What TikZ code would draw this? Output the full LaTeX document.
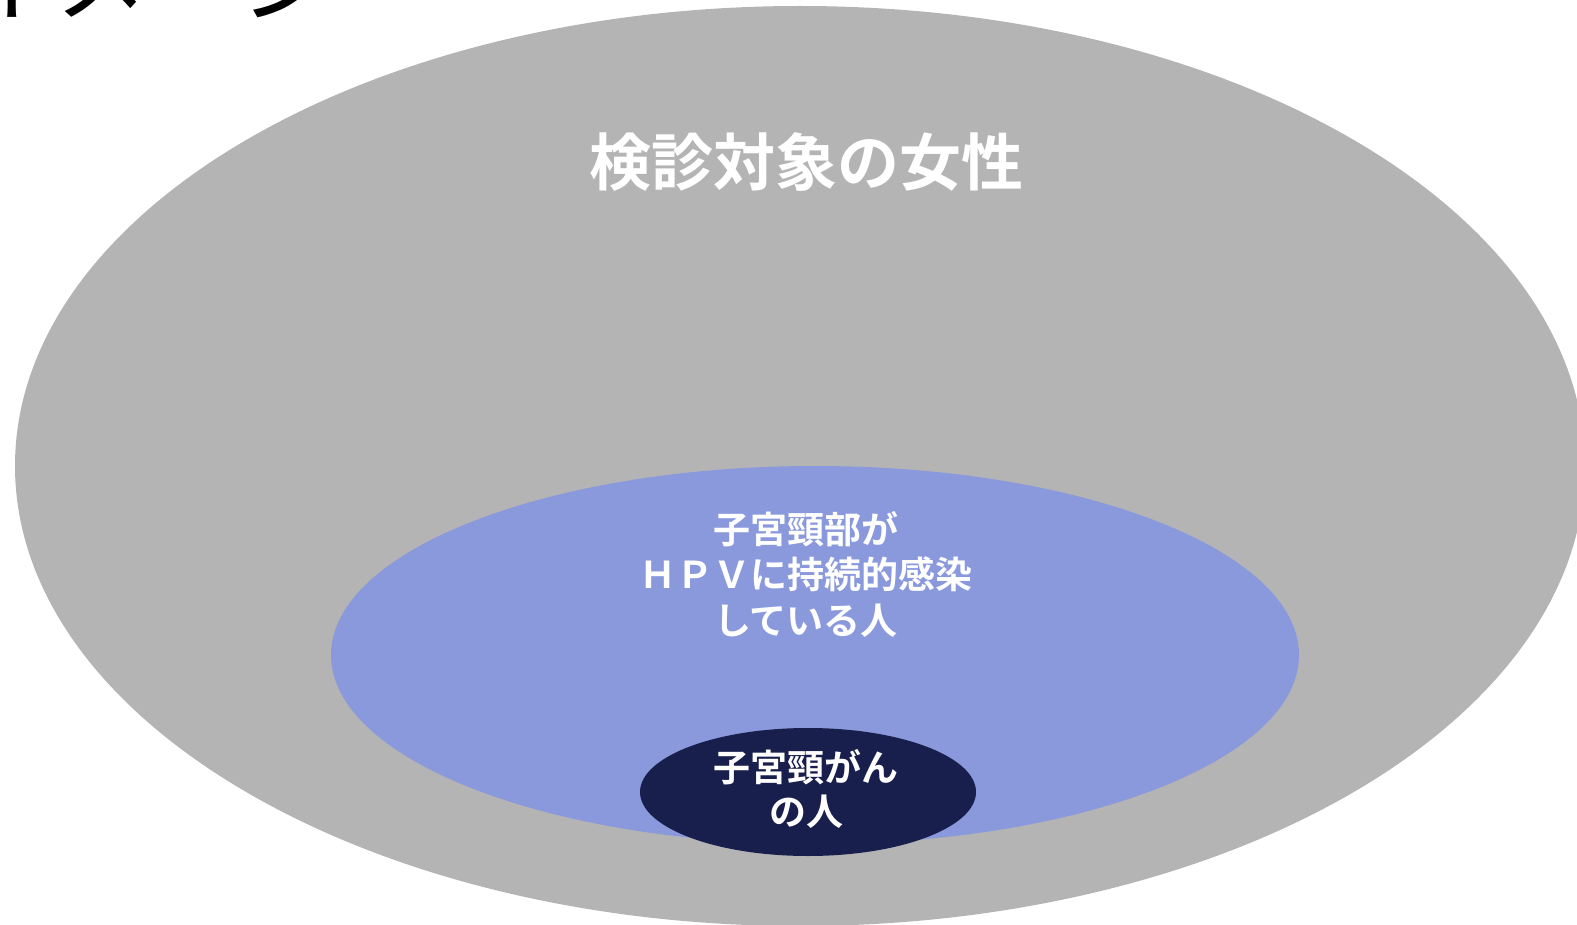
\documentclass[tikz,border=0pt]{standalone}
\usepackage{fontspec}
\usetikzlibrary{shapes.geometric}
\newfontfamily\jp{Noto Sans CJK JP}[BoldFont={Noto Sans CJK JP Bold}]
\definecolor{outergray}{RGB}{180,180,180}
\definecolor{hpvblue}{RGB}{138,153,220}
\definecolor{cancernavy}{RGB}{24,31,76}
\tikzset{
  blob/.style={ellipse, inner sep=0pt, draw=none},
  label/.style={text=white, align=center, inner sep=0pt, font=\jp\bfseries},
}
\begin{document}
\begin{tikzpicture}[x=1pt,y=-1pt]
\useasboundingbox (0,0) rectangle (1577,925);
\clip (0,0) rectangle (1577,925);
\node[blob, fill=outergray, minimum width=1570pt, minimum height=920pt] (women) at (800,466) {};
\node[blob, fill=hpvblue, minimum width=968pt, minimum height=378pt] (hpv) at (815,655) {};
\node[blob, fill=cancernavy, minimum width=336pt, minimum height=128pt] (cancer) at (808,792) {};
\node[label, font=\jp\bfseries\fontsize{62}{70}\selectfont] (titleW) at (806,162) {検診対象の女性};
\node[label, font=\jp\bfseries\fontsize{37}{45.5}\selectfont] (hpvtxt) at (806,574) {子宮頸部が\\ＨＰＶに持続的感染\\している人};
\node[label, font=\jp\bfseries\fontsize{37}{44}\selectfont] (cancertxt) at (806,789) {子宮頸がん\\の人};
\node[anchor=base west, inner sep=0pt, font=\jp\fontsize{94}{94}\selectfont] (heading) at (-40,15) {イメージ};
\end{tikzpicture}
\end{document}
